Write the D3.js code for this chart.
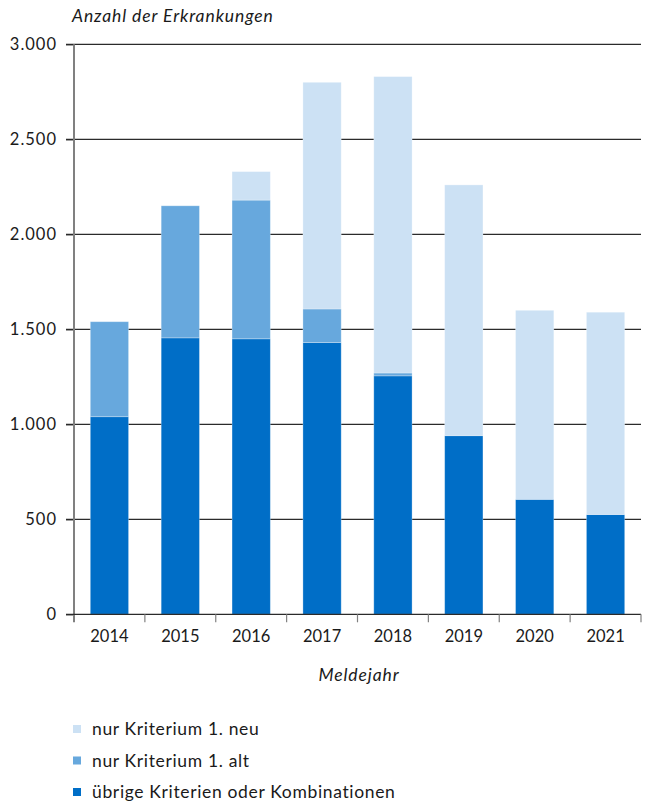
<!DOCTYPE html>
<html>
<head>
<meta charset="utf-8">
<script src="https://cdn.jsdelivr.net/npm/d3@7"></script>
<style>
  html, body { margin: 0; padding: 0; background: #fff; }
  svg { display: block; font-family: Lato, "Noto Sans", sans-serif; }
</style>
</head>
<body>
<svg id="chart" width="647" height="806"></svg>
<script>
// Meldejahre
const years = ["2014", "2015", "2016", "2017", "2018", "2019", "2020", "2021"];
// Erkrankungen je Kategorie
const uebrige   = [1040, 1455, 1450, 1430, 1255, 940, 605, 525];
const krit1Alt  = [500, 695, 730, 177, 15, 0, 0, 0];
const krit1Neu  = [0, 0, 150, 1193, 1560, 1320, 995, 1065];

const seriesKeys   = ["uebrige", "alt", "neu"];
const seriesLabels = ["übrige Kriterien oder Kombinationen", "nur Kriterium 1. alt", "nur Kriterium 1. neu"];
const seriesColors = ["#006ec7", "#67a8dd", "#cce1f4"];
const yTicks = [0, 500, 1000, 1500, 2000, 2500, 3000];

(function () {
  const rows = years.map((y, i) => ({ year: y, uebrige: uebrige[i], alt: krit1Alt[i], neu: krit1Neu[i] }));
  const stacked = d3.stack().keys(seriesKeys)(rows);

  const svg = d3.select("#chart");
  const plotLeft = 74, plotRight = 641, plotTop = 44.3, plotBottom = 614.3;
  const textColor = "#1a1a1a";

  const x = d3.scaleBand().domain(years).range([plotLeft, plotRight]).paddingInner(0.46).paddingOuter(0.23);
  const y = d3.scaleLinear().domain([0, 3000]).range([plotBottom, plotTop]);
  const fmt = d3.formatLocale({ decimal: ",", thousands: ".", grouping: [3], currency: ["", "€"] }).format(",");

  // Gitterlinien
  svg.append("g")
    .selectAll("line").data(yTicks.filter(t => t > 0)).join("line")
    .attr("x1", 66).attr("x2", plotRight)
    .attr("y1", d => y(d)).attr("y2", d => y(d))
    .attr("stroke", "#2b2b2b").attr("stroke-width", 1.3);

  // Balken
  svg.append("g")
    .selectAll("g").data(stacked).join("g")
    .attr("fill", (d, i) => seriesColors[i])
    .selectAll("rect").data(d => d.filter(s => s[1] - s[0] > 0)).join("rect")
    .attr("x", d => x(d.data.year))
    .attr("width", x.bandwidth())
    .attr("y", d => y(d[1]))
    .attr("height", d => y(d[0]) - y(d[1]))
    .attr("stroke", "rgba(255,255,255,0.35)")
    .attr("stroke-width", 0.8);

  // y-Achse
  const yAxis = d3.axisLeft(y).tickValues(yTicks).tickFormat(d => fmt(d)).tickSize(8).tickPadding(9);
  const gy = svg.append("g").attr("transform", `translate(${plotLeft},0)`).call(yAxis);
  gy.select(".domain").remove();
  gy.selectAll(".tick line").attr("stroke", "#2b2b2b").attr("stroke-width", 1.3);
  gy.selectAll(".tick text").attr("font-size", 16.5).attr("fill", textColor)
    .attr("letter-spacing", 1).attr("font-family", "Lato, sans-serif");
  svg.append("line").attr("x1", plotLeft).attr("x2", plotLeft).attr("y1", plotTop).attr("y2", plotBottom + 8)
    .attr("stroke", "#808080").attr("stroke-width", 2);

  // x-Achse
  svg.append("line").attr("x1", 66).attr("x2", plotRight).attr("y1", plotBottom).attr("y2", plotBottom)
    .attr("stroke", "#2b2b2b").attr("stroke-width", 1.3);
  const bounds = years.map(yr => x(yr) - x.step() * x.paddingInner() / 2).concat([plotRight]);
  svg.append("g").selectAll("line").data(bounds.slice(1)).join("line")
    .attr("x1", d => d).attr("x2", d => d).attr("y1", plotBottom).attr("y2", plotBottom + 8)
    .attr("stroke", "#808080").attr("stroke-width", 1.2);
  svg.append("g").selectAll("text").data(years).join("text")
    .attr("x", d => x(d) + x.bandwidth() / 2).attr("y", plotBottom + 28)
    .attr("text-anchor", "middle").attr("font-size", 16.5).attr("fill", textColor)
    .text(d => d);

  // Achsentitel
  svg.append("text").attr("x", 72).attr("y", 22).attr("font-size", 17.5).attr("letter-spacing", 0.9)
    .attr("font-style", "italic").attr("fill", textColor).text("Anzahl der Erkrankungen");
  svg.append("text").attr("x", 359).attr("y", 681).attr("text-anchor", "middle").attr("letter-spacing", 0.9)
    .attr("font-size", 17.5).attr("font-style", "italic").attr("fill", textColor).text("Meldejahr");

  // Legende
  const legendOrder = [2, 1, 0];
  const lg = svg.append("g").selectAll("g").data(legendOrder).join("g")
    .attr("transform", (d, i) => `translate(73,${729 + i * 31.5})`);
  lg.append("rect").attr("x", 0).attr("y", -4).attr("width", 8).attr("height", 8)
    .attr("fill", d => seriesColors[d]);
  lg.append("text").attr("x", 19).attr("y", 6).attr("font-size", 17.5).attr("letter-spacing", 0.65)
    .attr("fill", textColor).text(d => seriesLabels[d]);
})();
</script>
</body>
</html>
